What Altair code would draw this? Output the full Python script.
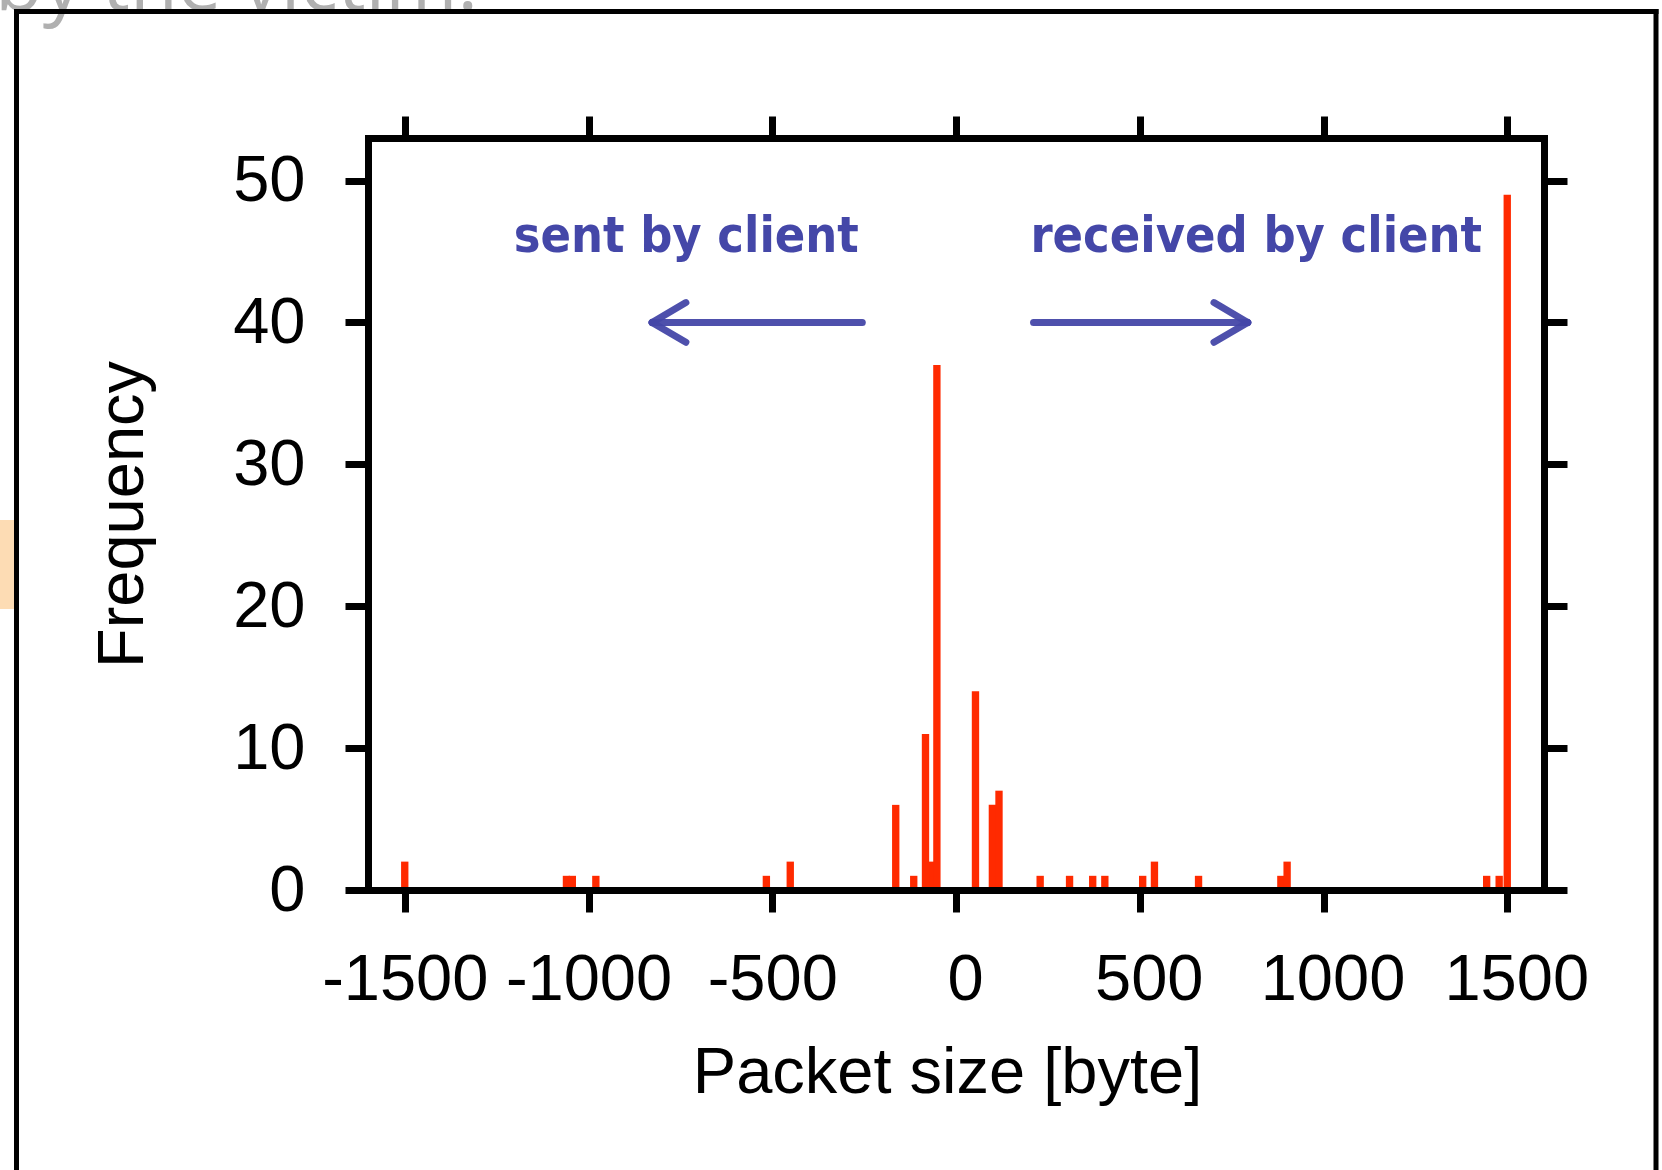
import altair as alt
import pandas as pd

# ---- data ----
bin_center = [-69, -1500, -1060, -1044, -980, -516, -451, -164, -115, -83, -52,
              53, 99, 117, 229, 309, 372, 405, 508, 540, 660, 884, 901, 1444, 1478, 1500]
freq = [2, 2, 1, 1, 1, 1, 2, 6, 1, 11, 37,
        14, 6, 7, 1, 1, 1, 1, 1, 2, 1, 1, 2, 1, 1, 49]
BIN_W = 20

x_ticks = [-1500, -1000, -500, 0, 500, 1000, 1500]
y_ticks = [0, 10, 20, 30, 40, 50]
x_domain = [-1600, 1600]
y_domain = [0, 53]

note_text = ["sent by client", "received by client"]
note_x = [-734, 817]
note_y = [45, 45]

# arrow strokes (shaft + two head arms for each arrow)
seg_x = [-827, -827, -827, 211, 794, 794]
seg_x2 = [-255, -735, -735, 794, 702, 702]
seg_y = [40, 40, 40, 40, 40, 40]
seg_y2 = [40, 41.4, 38.6, 40, 41.4, 38.6]

bars = pd.DataFrame({
    "lo": [c - BIN_W / 2 for c in bin_center],
    "hi": [c + BIN_W / 2 for c in bin_center],
    "freq": freq,
    "zero": [0] * len(freq),
})
notes = pd.DataFrame({"text": note_text, "x": note_x, "y": note_y})
segs = pd.DataFrame({"x": seg_x, "x2": seg_x2, "y": seg_y, "y2": seg_y2})
one = pd.DataFrame({"k": [0]})

W, H = 1176, 752
FONT = "Liberation Sans"
BLUE = "#4447A8"
FS = 65

xs = alt.Scale(domain=x_domain, nice=False, zero=False)
ys = alt.Scale(domain=y_domain, nice=False, zero=False)

common = dict(domainColor="black", domainWidth=7, domainCap="square",
              tickColor="black", tickWidth=7, grid=False, zindex=1)

x_bottom = alt.Axis(values=x_ticks, title="Packet size [byte]",
                    labelExpr="'' + datum.value",
                    labelOffset={"condition": {"test": "datum.value >= 0", "value": 9}, "value": 0},
                    tickSize=22, labelPadding=36, labelFont=FONT, labelFontSize=FS,
                    labelColor="black", labelFlush=False, labelOverlap=False,
                    titleFont=FONT, titleFontSize=65, titleFontWeight="normal",
                    titleColor="black", titleX=579, titleY=202,
                    titleBaseline="alphabetic", titleAlign="center", **common)
y_left = alt.Axis(values=y_ticks, title="Frequency", tickSize=23, labelPadding=40,
                  labelFont=FONT, labelFontSize=FS, labelColor="black",
                  labelFlush=False, labelOverlap=False,
                  titleFont=FONT, titleFontSize=65, titleFontWeight="normal",
                  titleColor="black", titleX=-226, titleY=376, titleAngle=270,
                  titleBaseline="alphabetic", titleAlign="center", **common)
x_top = alt.Axis(orient="top", values=x_ticks, labels=False, title=None,
                 tickSize=22, **common)
y_right = alt.Axis(orient="right", values=y_ticks, labels=False, title=None,
                   tickSize=23, **common)

bar_layer = alt.Chart(bars).mark_rect(color="#FF2A00").encode(
    x=alt.X("lo:Q", scale=xs, axis=x_bottom),
    x2="hi:Q",
    y=alt.Y("freq:Q", scale=ys, axis=y_left),
    y2="zero:Q",
)

note_layer = alt.Chart(notes).mark_text(
    font="'DejaVu Sans Condensed', 'DejaVu Sans', sans-serif",
    fontSize=50, fontWeight="bold", color=BLUE, baseline="alphabetic", align="center",
).encode(
    x=alt.X("x:Q", scale=xs, axis=x_top),
    y=alt.Y("y:Q", scale=ys, axis=y_right),
    text="text:N",
)

arrow_layer = alt.Chart(segs).mark_rule(
    color=BLUE, strokeWidth=7, strokeCap="round", opacity=0.95
).encode(
    x=alt.X("x:Q", scale=xs, axis=None),
    x2="x2:Q",
    y=alt.Y("y:Q", scale=ys, axis=None),
    y2="y2:Q",
)

# slide-screenshot framing around the figure
border_left = alt.Chart(one).mark_rule(color="black", strokeWidth=5).encode(
    x=alt.value(-351.5), y=alt.value(-129), y2=alt.value(1040))
border_top = alt.Chart(one).mark_rule(color="black", strokeWidth=5).encode(
    x=alt.value(-354), x2=alt.value(1290.5), y=alt.value(-126.5))
border_right = alt.Chart(one).mark_rule(color="black", strokeWidth=5).encode(
    x=alt.value(1288), y=alt.value(-129), y2=alt.value(1040))
peach = alt.Chart(one).mark_rect(color="#FDDCB4").encode(
    x=alt.value(-368), x2=alt.value(-354), y=alt.value(382), y2=alt.value(471))
ghost = alt.Chart(one).mark_text(
    text="by the victim.", font="Open Sans", fontSize=78, color="#B0B0B0",
    align="right", baseline="alphabetic"
).encode(x=alt.value(110), y=alt.value(-128))

chart = alt.layer(
    ghost, peach, border_left, border_top, border_right,
    bar_layer, note_layer, arrow_layer
).resolve_axis(x="independent", y="independent").properties(
    width=W, height=H,
    autosize=alt.AutoSizeParams(type="none"),
    padding={"left": 368, "top": 138, "right": 1662 - 368 - W, "bottom": 1170 - 138 - H},
    background="white",
).configure_view(stroke=None)

chart.save("out.html", embed_options={"renderer": "svg", "actions": False})
